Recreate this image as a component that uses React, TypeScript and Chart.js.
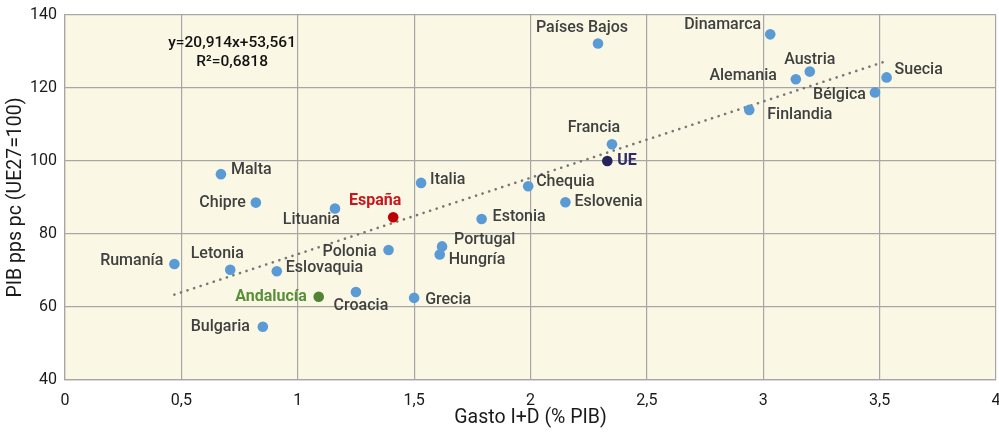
import React, { useEffect, useRef } from "react";
import { Chart, registerables } from "chart.js";

Chart.register(...registerables);

// ---- Data ----
const countries = [
  "Países Bajos", "Dinamarca", "Austria", "Alemania", "Suecia", "Bélgica", "Finlandia",
  "Francia", "Italia", "Chequia", "Eslovenia", "Lituania", "Estonia", "Portugal", "Hungría",
  "Polonia", "Croacia", "Grecia", "Malta", "Chipre", "Rumanía", "Letonia", "Eslovaquia", "Bulgaria",
];
const gastoID = [
  2.29, 3.03, 3.2, 3.14, 3.53, 3.48, 2.94,
  2.35, 1.53, 1.99, 2.15, 1.16, 1.79, 1.62, 1.61,
  1.39, 1.25, 1.5, 0.67, 0.82, 0.47, 0.71, 0.91, 0.85,
];
const pibPps = [
  132.2, 134.7, 124.5, 122.4, 122.9, 118.8, 114.0,
  104.6, 94.0, 93.1, 88.7, 87.0, 84.1, 76.6, 74.4,
  75.6, 64.1, 62.5, 96.4, 88.6, 71.8, 70.2, 69.8, 54.6,
];
const highlightNames = ["España", "UE", "Andalucía"];
const highlightGasto = [1.41, 2.33, 1.09];
const highlightPib = [84.6, 100.0, 62.8];

const trendSlope = 20.914;
const trendIntercept = 53.561;
const equationLines = ["y=20,914x+53,561", "R²=0,6818"];

const xTicks = [0, 0.5, 1, 1.5, 2, 2.5, 3, 3.5, 4];
const yTicks = [40, 60, 80, 100, 120, 140];

// ---- Styling / label placement (not data) ----
const COL_POINT = "#5B9BD5";
const HL_COLORS = ["#C00000", "#25235A", "#548235"];
const HL_LABEL_COLORS = ["#C8161D", "#2E2A6B", "#5A8F3A"];
const LABEL_COLOR = "#404040";
const FONT = "Roboto";

type Place = { a: "left" | "right" | "center"; dx: number; dy: number };
const placement: Record<string, Place> = {
  "Países Bajos": { a: "center", dx: -16, dy: -15 },
  Dinamarca: { a: "right", dx: -9, dy: -9 },
  Austria: { a: "center", dx: 0, dy: -12 },
  Alemania: { a: "right", dx: -19, dy: -3 },
  Suecia: { a: "left", dx: 8, dy: -7 },
  "Bélgica": { a: "right", dx: -9, dy: 3 },
  Finlandia: { a: "left", dx: 18, dy: 5 },
  Francia: { a: "center", dx: -18, dy: -16 },
  Italia: { a: "left", dx: 9, dy: -3 },
  Chequia: { a: "left", dx: 8, dy: -4 },
  Eslovenia: { a: "left", dx: 9, dy: 0 },
  Lituania: { a: "right", dx: 5, dy: 12 },
  Estonia: { a: "left", dx: 11, dy: -2 },
  Portugal: { a: "left", dx: 12, dy: -6 },
  "Hungría": { a: "left", dx: 9, dy: 6 },
  Polonia: { a: "right", dx: -12, dy: 2 },
  Croacia: { a: "center", dx: 5, dy: 14 },
  Grecia: { a: "left", dx: 11, dy: 2 },
  Malta: { a: "left", dx: 10, dy: -4 },
  Chipre: { a: "right", dx: -10, dy: 0 },
  "Rumanía": { a: "right", dx: -11, dy: -3 },
  Letonia: { a: "center", dx: -13, dy: -16 },
  Eslovaquia: { a: "left", dx: 9, dy: -3 },
  Bulgaria: { a: "right", dx: -13, dy: 0 },
  "España": { a: "center", dx: -18, dy: -16 },
  UE: { a: "left", dx: 10, dy: 0 },
  "Andalucía": { a: "right", dx: -12, dy: 0 },
};

const fmt = (v: number) => String(v).replace(".", ",");

export default function App() {
  const ref = useRef<HTMLCanvasElement | null>(null);

  useEffect(() => {
    if (!ref.current) return;
    const allX = gastoID.concat(highlightGasto);
    const xMin = Math.min(...allX);
    const xMax = Math.max(...allX);
    const trendData = [
      { x: xMin, y: trendSlope * xMin + trendIntercept },
      { x: xMax, y: trendSlope * xMax + trendIntercept },
    ];

    const bgPlugin = {
      id: "bg",
      beforeDraw(chart: any) {
        const { ctx, chartArea } = chart;
        ctx.save();
        ctx.fillStyle = "#FAF8E4";
        ctx.fillRect(chartArea.left, chartArea.top, chartArea.right - chartArea.left, chartArea.bottom - chartArea.top);
        ctx.restore();
      },
    };

    const labelPlugin = {
      id: "labels",
      afterDatasetsDraw(chart: any) {
        const { ctx, scales } = chart;
        const xs = scales.x, ys = scales.y;
        ctx.save();
        ctx.textBaseline = "middle";
        const draw = (name: string, x: number, y: number, color: string, bold: boolean) => {
          const p = placement[name] || { a: "left", dx: 9, dy: 0 };
          ctx.font = `${bold ? "bold" : "500"} 16px ${FONT}`;
          ctx.fillStyle = color;
          ctx.textAlign = p.a;
          ctx.fillText(name, xs.getPixelForValue(x) + p.dx, ys.getPixelForValue(y) + p.dy);
        };
        countries.forEach((n, i) => draw(n, gastoID[i], pibPps[i], LABEL_COLOR, false));
        highlightNames.forEach((n, i) => draw(n, highlightGasto[i], highlightPib[i], HL_LABEL_COLORS[i], true));
        ctx.font = `500 15.5px ${FONT}`;
        ctx.fillStyle = "#111";
        ctx.textAlign = "center";
        const ex = xs.getPixelForValue(0.718);
        ctx.fillText(equationLines[0], ex, ys.getPixelForValue(132.4));
        ctx.fillText(equationLines[1], ex, ys.getPixelForValue(127.2));
        ctx.restore();
      },
    };

    const chart = new Chart(ref.current, {
      type: "scatter",
      data: {
        datasets: [
          {
            label: "Países",
            data: countries.map((_, i) => ({ x: gastoID[i], y: pibPps[i] })),
            backgroundColor: COL_POINT,
            borderWidth: 0,
            pointRadius: 5.3,
          },
          ...highlightNames.map((n, i) => ({
            label: n,
            data: [{ x: highlightGasto[i], y: highlightPib[i] }],
            backgroundColor: HL_COLORS[i],
            borderWidth: 0,
            pointRadius: 5.3,
          })),
          {
            label: "Tendencia",
            data: trendData,
            showLine: true,
            pointRadius: 0,
            borderColor: "#777777",
            borderWidth: 2.6,
            borderDash: [0.1, 6.8],
            borderCapStyle: "round",
            fill: false,
          } as any,
        ],
      },
      options: {
        responsive: false,
        animation: false,
        layout: { autoPadding: false, padding: { top: 15, right: 3, left: 0, bottom: 0 } },
        plugins: { legend: { display: false }, tooltip: { enabled: false } },
        scales: {
          x: {
            type: "linear",
            min: 0,
            max: 4,
            afterBuildTicks: (s: any) => { s.ticks = xTicks.map((v) => ({ value: v })); },
            afterFit: (s: any) => {
              s.height = 52;
              s.paddingLeft = 0;
              s.paddingRight = 0;
            },
            grid: { color: "#A6A6A6", lineWidth: 1.2, drawTicks: false },
            border: { color: "#A6A6A6", width: 1.2 },
            ticks: {
              padding: 11,
              color: "#1a1a1a",
              font: { family: FONT, size: 16 },
              callback: (v: any) => fmt(v),
            },
            title: {
              display: true,
              text: "Gasto I+D (% PIB)",
              color: "#1a1a1a",
              font: { family: FONT, size: 19.5 },
              padding: { top: 0, bottom: 2 },
            },
          },
          y: {
            type: "linear",
            min: 40,
            max: 140,
            afterBuildTicks: (s: any) => { s.ticks = yTicks.map((v) => ({ value: v })); },
            afterFit: (s: any) => {
              s.width = 65;
              s.paddingTop = 0;
              s.paddingBottom = 0;
            },
            grid: { color: "#A6A6A6", lineWidth: 1.2, drawTicks: false },
            border: { color: "#A6A6A6", width: 1.2 },
            ticks: {
              padding: 8,
              color: "#1a1a1a",
              font: { family: FONT, size: 16 },
              callback: (v: any) => fmt(v),
            },
            title: {
              display: true,
              text: "PIB pps pc (UE27=100)",
              color: "#1a1a1a",
              font: { family: FONT, size: 19.5 },
              padding: { top: 4, bottom: 0 },
            },
          },
        },
      },
      plugins: [bgPlugin, labelPlugin],
    });
    return () => chart.destroy();
  }, []);

  return (
    <div style={{ position: "absolute", left: 0, top: 0, width: 999, height: 432, background: "#fff" }}>
      <canvas ref={ref} width={999} height={432} style={{ display: "block" }} />
    </div>
  );
}
